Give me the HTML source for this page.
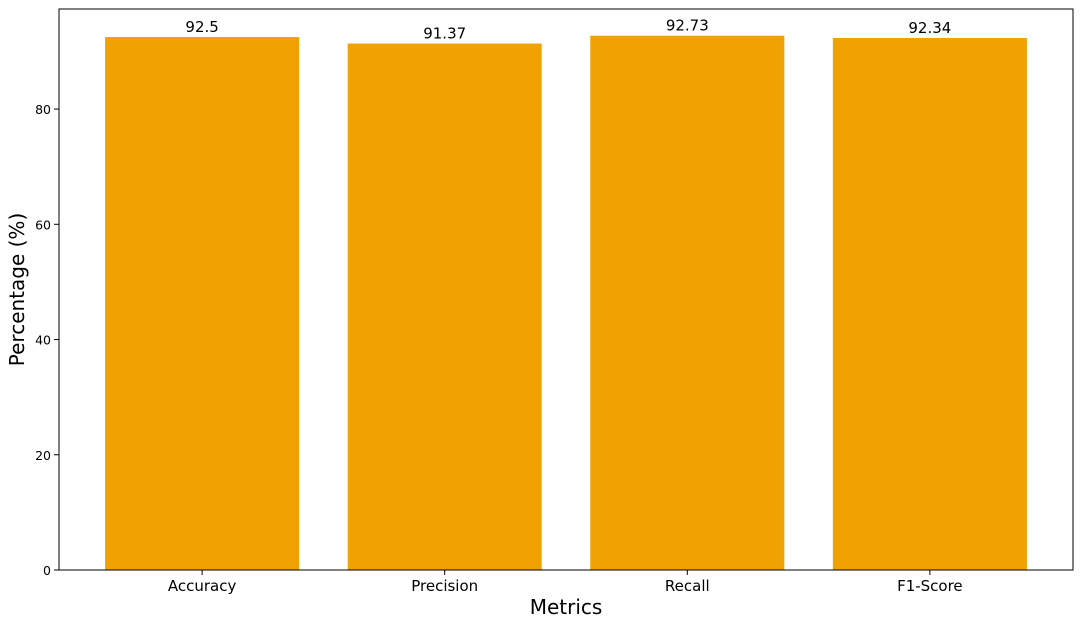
<!DOCTYPE html>
<html><head><meta charset="utf-8"><style>
html,body{margin:0;padding:0;background:#fff;}
svg{display:block;font-family:"DejaVu Sans","Liberation Sans",sans-serif;}
</style></head><body>
<svg id="chart" width="1083" height="628"></svg>
<script>
const categories = ["Accuracy", "Precision", "Recall", "F1-Score"];
const values = [92.5, 91.37, 92.73, 92.34];
const valueLabels = ["92.5", "91.37", "92.73", "92.34"];
const yTicks = [0, 20, 40, 60, 80];

const NS = "http://www.w3.org/2000/svg";
const svg = document.getElementById("chart");
const L = 59, R = 1073, T = 9, B = 570;
const yMax = Math.max(...values) * 1.05;
const n = categories.length;
const xMin = -0.59, xMax = (n - 1) + 0.59;
const x = v => L + (v - xMin) / (xMax - xMin) * (R - L);
const y = v => B - v / yMax * (B - T);
function mk(tag, attrs, text) {
  const e = document.createElementNS(NS, tag);
  for (const k in attrs) e.setAttribute(k, attrs[k]);
  if (text !== undefined) e.textContent = text;
  svg.appendChild(e);
  return e;
}
values.forEach((v, i) => {
  const r = mk("rect", {x: x(i - 0.4), y: y(v), width: x(i + 0.4) - x(i - 0.4), height: B - y(v), fill: "#F0A202"});
  
  
  const t = mk("text", {x: x(i), y: y(v) - 5, "text-anchor": "middle", "font-size": "15", fill: "#000"}, valueLabels[i]);
  
  
  mk("line", {x1: x(i), x2: x(i), y1: B, y2: B + 5, stroke: "#000", "stroke-width": 1});
  const c = mk("text", {x: x(i), y: B + 21, "text-anchor": "middle", "font-size": "15", fill: "#000"}, categories[i]);
  
  
});
yTicks.forEach(v => {
  mk("line", {x1: L - 5, x2: L, y1: y(v), y2: y(v), stroke: "#000", "stroke-width": 1});
  const t = mk("text", {x: L - 8, y: y(v) + 5, "text-anchor": "end", "font-size": "12.5", fill: "#000"}, String(v));
  
  
});
const frame = mk("rect", {x: L, y: T, width: R - L, height: B - T, fill: "none", stroke: "#000", "stroke-width": 1});


const xt = mk("text", {x: (L + R) / 2, y: 614, "text-anchor": "middle", "font-size": "20", fill: "#000"}, "Metrics");


const yt = mk("text", {x: 0, y: 0, "text-anchor": "middle", "font-size": "20", fill: "#000", transform: "translate(24," + ((T + B) / 2) + ") rotate(-90)"}, "Percentage (%)");


</script>
</body></html>
